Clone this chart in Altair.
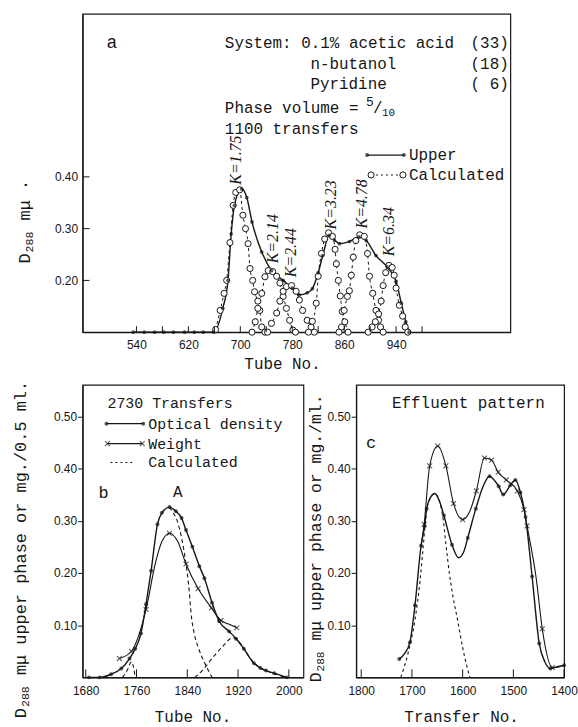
import altair as alt
import pandas as pd

INK = "#161616"
LETTER = "Liberation Mono"
NUM = "Liberation Sans"
KFONT = "Liberation Serif"
XMARK = "M-1,-1L1,1M-1,1L1,-1"

# ---------------- panel a : 1100 transfers ----------------
a_upper_tube = [535, 552, 568, 582, 597, 614, 629, 643, 659, 673, 681, 686, 691, 702,
                710, 718, 733, 748, 766, 780, 791, 803, 811, 820, 827, 837, 845, 853,
                868, 883, 894, 909, 926, 940, 948, 955, 960]
a_upper_d = [0.100, 0.100, 0.100, 0.100, 0.100, 0.100, 0.100, 0.100, 0.100, 0.146, 0.200,
             0.290, 0.345, 0.377, 0.360, 0.313, 0.255, 0.219, 0.200, 0.185, 0.172, 0.176,
             0.184, 0.215, 0.248, 0.287, 0.278, 0.271, 0.275, 0.284, 0.277, 0.248, 0.226,
             0.198, 0.156, 0.120, 0.100]

k175_tube = [662, 669, 675, 679, 684, 689, 693, 699, 704, 708, 712, 715, 719, 722, 727, 730, 733, 738]
k175_d = [0.105, 0.142, 0.175, 0.200, 0.273, 0.345, 0.370, 0.375, 0.326, 0.300, 0.271, 0.223,
          0.200, 0.178, 0.160, 0.142, 0.110, 0.100]
k214_tube = [718, 723, 727, 733, 738, 743, 750, 756, 761, 766, 771, 776, 781, 785]
k214_d = [0.100, 0.120, 0.146, 0.175, 0.207, 0.219, 0.217, 0.208, 0.195, 0.169, 0.146, 0.123, 0.104, 0.100]
k244_tube = [742, 748, 756, 761, 766, 771, 779, 786, 791, 796, 803, 809, 814]
k244_d = [0.100, 0.117, 0.137, 0.160, 0.179, 0.188, 0.190, 0.179, 0.162, 0.142, 0.123, 0.110, 0.100]
k323_tube = [805, 811, 817, 820, 825, 830, 836, 842, 846, 848, 851, 854, 857, 861, 866]
k323_d = [0.100, 0.121, 0.156, 0.208, 0.252, 0.280, 0.292, 0.285, 0.260, 0.232, 0.200, 0.170,
          0.140, 0.120, 0.100]
k478_tube = [852, 856, 860, 865, 868, 871, 874, 878, 884, 891, 896, 899, 904, 909, 913, 916, 920]
k478_d = [0.100, 0.110, 0.142, 0.169, 0.180, 0.210, 0.245, 0.277, 0.288, 0.285, 0.252, 0.208,
          0.175, 0.142, 0.123, 0.110, 0.100]
k634_tube = [897, 903, 908, 913, 917, 920, 924, 929, 934, 937, 940, 945, 950, 954, 958]
k634_d = [0.100, 0.110, 0.120, 0.135, 0.160, 0.190, 0.215, 0.229, 0.225, 0.210, 0.185, 0.152,
          0.131, 0.110, 0.100]

a_x_labels = [540, 620, 700, 780, 860, 940]
a_x_ticks = [540, 580, 620, 660, 700, 740, 780, 820, 860, 900, 940, 980]
a_y_labels = [0.2, 0.3, 0.4]

# ---------------- panel b : 2730 transfers ----------------
b_od_tube = [1685, 1702, 1720, 1736, 1749, 1758, 1767, 1775, 1783, 1793, 1800, 1812, 1822, 1831,
             1838, 1848, 1859, 1867, 1879, 1890, 1906, 1917, 1929, 1945, 1955, 1964, 1977, 1997]
b_od_val = [0.000, 0.000, 0.006, 0.017, 0.036, 0.055, 0.084, 0.140, 0.204, 0.293, 0.315, 0.326,
            0.318, 0.305, 0.282, 0.250, 0.213, 0.190, 0.143, 0.108, 0.088, 0.074, 0.055, 0.027,
            0.018, 0.013, 0.008, 0.000]
b_wt_tube = [1733, 1752, 1775, 1790, 1800, 1812, 1825, 1838, 1857, 1878, 1893, 1905, 1918]
b_wt_val = [0.036, 0.050, 0.130, 0.220, 0.260, 0.276, 0.260, 0.217, 0.170, 0.133, 0.109, 0.102, 0.095]
b_wt_marked = [1733, 1752, 1775, 1812, 1838, 1857, 1878, 1893, 1918]
b_c1_tube = [1738, 1746, 1752, 1756, 1758]
b_c1_val = [0.000, 0.015, 0.030, 0.015, 0.000]
b_c2_tube = [1812, 1815, 1824, 1831, 1838, 1843, 1846, 1851, 1858, 1868, 1879]
b_c2_val = [0.326, 0.320, 0.300, 0.267, 0.217, 0.166, 0.122, 0.084, 0.055, 0.026, 0.000]
b_c3_tube = [1852, 1865, 1880, 1895, 1912, 1925, 1940, 1955, 1975, 1995]
b_c3_val = [0.000, 0.015, 0.038, 0.058, 0.076, 0.063, 0.035, 0.018, 0.008, 0.000]
b_x_labels = [1680, 1760, 1840, 1920, 2000]
bc_y_labels = [0.1, 0.2, 0.3, 0.4, 0.5]

# ---------------- panel c : effluent pattern ----------------
c_od_tr = [1725, 1715, 1704, 1694, 1682, 1675, 1671, 1663, 1655, 1646, 1637, 1621, 1608, 1598,
           1590, 1574, 1560, 1547, 1538, 1529, 1520, 1506, 1496, 1486, 1476, 1463, 1449, 1438,
           1427, 1415, 1400]
c_od_val = [0.035, 0.045, 0.067, 0.138, 0.252, 0.290, 0.323, 0.345, 0.352, 0.338, 0.310, 0.254,
            0.229, 0.240, 0.267, 0.323, 0.365, 0.385, 0.378, 0.366, 0.350, 0.368, 0.378, 0.354,
            0.307, 0.193, 0.065, 0.030, 0.017, 0.020, 0.023]
c_od_marked = [1725, 1704, 1694, 1682, 1675, 1671, 1637, 1621, 1590, 1574, 1547, 1529, 1520,
               1506, 1496, 1486, 1476, 1463, 1449, 1427, 1400]
c_wt_tr = [1682, 1676, 1665, 1649, 1633, 1618, 1600, 1585, 1573, 1557, 1543, 1530, 1514, 1492,
           1479, 1473, 1455, 1443, 1423, 1410, 1400]
c_wt_val = [0.252, 0.293, 0.405, 0.443, 0.405, 0.333, 0.302, 0.320, 0.357, 0.420, 0.416, 0.393,
            0.378, 0.357, 0.321, 0.290, 0.190, 0.093, 0.019, 0.020, 0.023]
c_wt_marked = [1676, 1665, 1649, 1633, 1618, 1600, 1573, 1557, 1543, 1530, 1514, 1492, 1479,
               1473, 1443, 1423]
c_calc_tr = [1722, 1708, 1694, 1684, 1678, 1671, 1663, 1655, 1645, 1638, 1633, 1626, 1620, 1610,
             1600, 1586]
c_calc_val = [0.000, 0.045, 0.110, 0.185, 0.248, 0.318, 0.345, 0.352, 0.335, 0.300, 0.255, 0.198,
              0.160, 0.110, 0.057, 0.000]
c_x_labels = [1800, 1700, 1600, 1500, 1400]

one = pd.DataFrame({"k": [0]})


def frame(xs, ys, comp="s"):
    return pd.DataFrame({"x": xs, "y": ys, "comp": comp})


def txt(s, x, y, size=16, align="left", angle=0, font=LETTER, style="normal"):
    return alt.Chart(one).mark_text(
        text=s, align=align, baseline="middle", fontSize=size, font=font,
        fontStyle=style, angle=angle, color=INK
    ).encode(x=alt.value(x), y=alt.value(y))


def vtitle(x, y_bottom, rest, size):
    """Rotated 'D288 ...' title read bottom-to-top, with a real subscript."""
    adv = 0.6 * size
    sub = round(size * 0.68, 1)
    y_sub = y_bottom - adv - 1
    y_rest = y_sub - 3 * 0.6 * sub - 1 - adv
    return [
        txt("D", x, y_bottom, size=size, angle=270),
        txt("288", x + 5, y_sub, size=sub, angle=270),
        txt(rest, x, y_rest, size=size, angle=270),
    ]


def seg(x1, x2, y, dash=None, width=1.3):
    kw = dict(color=INK, strokeWidth=width)
    if dash:
        kw["strokeDash"] = dash
    return alt.Chart(one).mark_rule(**kw).encode(x=alt.value(x1), x2=alt.value(x2), y=alt.value(y))


def glyph(x, y, kind):
    if kind == "dot":
        m = alt.Chart(one).mark_point(shape="circle", filled=True, color=INK, size=16)
    elif kind == "ring":
        m = alt.Chart(one).mark_point(shape="circle", filled=True, fill="white", stroke=INK,
                                      strokeWidth=1, size=38, opacity=1)
    else:
        m = alt.Chart(one).mark_point(shape=XMARK, filled=False, color=INK, size=24, strokeWidth=1.1)
    return m.encode(x=alt.value(x), y=alt.value(y))


def enc(xs, ys, xa, ya):
    return dict(x=alt.X("x:Q", scale=xs, axis=xa), y=alt.Y("y:Q", scale=ys, axis=ya))


def ktxt(s, x, y):
    return txt(s, x, y, size=16, angle=270, align="center", font=KFONT, style="italic")


# ======================= panel a =======================
AW, AH = 430, 320
xs_a = alt.Scale(domain=[457, 1116], nice=False, zero=False)
ys_a = alt.Scale(domain=[0.10, 0.715], nice=False, zero=False)
xa_a = alt.Axis(values=a_x_labels, format="d", ticks=False, labelPadding=7, title=None,
                labelFlush=False, labelOverlap=False)
ya_a = alt.Axis(values=a_y_labels, format=".2f", ticks=False, labelPadding=5, title=None,
                labelOverlap=False)
ea = enc(xs_a, ys_a, xa_a, ya_a)

upper = frame(a_upper_tube, a_upper_d)
calc_a = pd.concat([
    frame(k175_tube, k175_d, "k175"), frame(k214_tube, k214_d, "k214"),
    frame(k244_tube, k244_d, "k244"), frame(k323_tube, k323_d, "k323"),
    frame(k478_tube, k478_d, "k478"), frame(k634_tube, k634_d, "k634")])

a_layers = [
    alt.Chart(one).mark_rule(color="white", strokeWidth=0.5).encode(
        x=alt.value(-82), x2=alt.value(-81), y=alt.value(-11)),
    alt.Chart(calc_a).mark_line(color=INK, strokeWidth=1.0, strokeDash=[3, 3], interpolate="monotone").encode(
        detail="comp:N", **ea),
    alt.Chart(upper).mark_line(color=INK, strokeWidth=1.4, interpolate="monotone").encode(**ea),
    alt.Chart(calc_a).mark_point(shape="circle", filled=True, fill="white", stroke=INK, strokeWidth=1,
                                 size=38, opacity=1).encode(**ea),
    alt.Chart(upper).mark_point(shape="circle", filled=True, color=INK, size=14).encode(**ea),
    alt.Chart(pd.DataFrame({"x": a_x_ticks})).mark_rule(color=INK, strokeWidth=1).encode(
        x=alt.X("x:Q", scale=xs_a, axis=xa_a), y=alt.value(AH), y2=alt.value(AH - 6)),
    alt.Chart(pd.DataFrame({"y": a_y_labels})).mark_rule(color=INK, strokeWidth=1).encode(
        y=alt.Y("y:Q", scale=ys_a, axis=ya_a), x=alt.value(0), x2=alt.value(7)),
    txt("a", 24, 29, size=18),
    txt("System: 0.1% acetic acid", 143, 29),
    txt("(33)", 390, 29),
    txt("n-butanol", 229, 50),
    txt("(18)", 390, 50),
    txt("Pyridine", 229, 71),
    txt("( 6)", 390, 71),
    txt("Phase volume =", 143, 95),
    txt("5", 285, 89, size=13),
    txt("/", 292, 95, size=16),
    txt("10", 301, 100, size=11),
    txt("1100 transfers", 143, 116),
    seg(286, 323, 142),
    glyph(286, 142, "dot"), glyph(323, 142, "dot"),
    txt("Upper", 328, 142),
    seg(290, 322, 162, dash=[2, 3], width=1.1),
    glyph(290, 162, "ring"), glyph(322, 162, "ring"),
    txt("Calculated", 328, 162),
    ktxt("K=1.75", 154, 147),
    ktxt("K=2.14", 191, 226),
    ktxt("K=2.44", 210, 240),
    ktxt("K=3.23", 250, 192),
    ktxt("K=4.78", 281, 191),
    ktxt("K=6.34", 308, 219),
    txt("Tube No.", 201, 352, align="center"),
] + vtitle(-58, 251, "mμ ·", 17)
panel_a = alt.layer(*a_layers).properties(width=AW, height=AH)

# ======================= panel b =======================
BW, BH = 222, 294
xs_b = alt.Scale(domain=[1675, 2023], nice=False, zero=False)
ys_b = alt.Scale(domain=[0, 0.56], nice=False, zero=False)
xa_b = alt.Axis(values=b_x_labels, format="d", ticks=False, labelPadding=8, title=None,
                labelFlush=False, labelOverlap=False)
ya_b = alt.Axis(values=bc_y_labels, format=".2f", tickSize=5, labelPadding=1, title=None,
                labelOverlap=False)
eb = enc(xs_b, ys_b, xa_b, ya_b)

b_od = frame(b_od_tube, b_od_val)
b_wt = frame(b_wt_tube, b_wt_val)
b_wt_pts = b_wt[b_wt["x"].isin(b_wt_marked)]
b_calc = pd.concat([frame(b_c1_tube, b_c1_val, "c1"), frame(b_c2_tube, b_c2_val, "c2"),
                    frame(b_c3_tube, b_c3_val, "c3")])

b_layers = [
    alt.Chart(one).mark_rule(color="white", strokeWidth=0.5).encode(
        x=alt.value(-82), x2=alt.value(-81), y=alt.value(40)),
    alt.Chart(b_calc).mark_line(color=INK, strokeWidth=1.1, strokeDash=[4, 3], interpolate="monotone").encode(
        detail="comp:N", **eb),
    alt.Chart(b_wt).mark_line(color=INK, strokeWidth=1.1, interpolate="monotone").encode(**eb),
    alt.Chart(b_od).mark_line(color=INK, strokeWidth=1.4, interpolate="monotone").encode(**eb),
    alt.Chart(b_od).mark_point(shape="circle", filled=True, color=INK, size=16).encode(**eb),
    alt.Chart(b_wt_pts).mark_point(shape=XMARK, filled=False, color=INK, size=24, strokeWidth=1.1).encode(**eb),
    alt.Chart(pd.DataFrame({"x": b_x_labels})).mark_rule(color=INK, strokeWidth=1).encode(
        x=alt.X("x:Q", scale=xs_b, axis=xa_b), y=alt.value(BH), y2=alt.value(BH - 8)),
    txt("2730 Transfers", 25, 18, size=15),
    seg(24, 61, 39), glyph(24, 39, "dot"), glyph(61, 39, "dot"),
    txt("Optical density", 66, 39, size=15),
    seg(25, 60, 59, width=1.1), glyph(25, 59, "x"), glyph(60, 59, "x"),
    txt("Weight", 66, 59, size=15),
    seg(28, 50, 78, dash=[2, 3], width=1.1),
    txt("Calculated", 66, 78, size=15),
    txt("b", 16, 109, size=17),
    txt("A", 91, 108, size=16),
    txt("Tube No.", 111, 334, align="center"),
] + vtitle(-62, 335, "mμ upper phase or mg./0.5 ml.", 17)
panel_b = alt.layer(*b_layers).properties(width=BW, height=BH)

# ======================= panel c =======================
CW, CH = 209, 294
xs_c = alt.Scale(domain=[1400, 1810], reverse=True, nice=False, zero=False)
ys_c = alt.Scale(domain=[0, 0.56], nice=False, zero=False)
xa_c = alt.Axis(values=c_x_labels, format="d", ticks=False, labelPadding=8, title=None,
                labelFlush=False, labelOverlap=False)
ya_c = alt.Axis(values=bc_y_labels, format=".2f", tickSize=5, labelPadding=1, title=None,
                labelOverlap=False)
ec = enc(xs_c, ys_c, xa_c, ya_c)

c_od = frame(c_od_tr, c_od_val)
c_od_pts = c_od[c_od["x"].isin(c_od_marked)]
c_wt = frame(c_wt_tr, c_wt_val)
c_wt_pts = c_wt[c_wt["x"].isin(c_wt_marked)]
c_calc = frame(c_calc_tr, c_calc_val)

c_layers = [
    alt.Chart(c_calc).mark_line(color=INK, strokeWidth=1.1, strokeDash=[3, 3], interpolate="monotone").encode(**ec),
    alt.Chart(c_wt).mark_line(color=INK, strokeWidth=1.1, interpolate="monotone").encode(**ec),
    alt.Chart(c_od).mark_line(color=INK, strokeWidth=1.4, interpolate="monotone").encode(**ec),
    alt.Chart(c_od_pts).mark_point(shape="circle", filled=True, color=INK, size=16).encode(**ec),
    alt.Chart(c_wt_pts).mark_point(shape=XMARK, filled=False, color=INK, size=24, strokeWidth=1.1).encode(**ec),
    alt.Chart(pd.DataFrame({"x": c_x_labels})).mark_rule(color=INK, strokeWidth=1).encode(
        x=alt.X("x:Q", scale=xs_c, axis=xa_c), y=alt.value(CH), y2=alt.value(CH - 8)),
    txt("Effluent pattern", 36, 18),
    txt("c", 10, 58, size=17),
    txt("Transfer No.", 106, 334, align="center"),
] + vtitle(-40, 299, "mμ upper phase or mg./ml.", 16.5)
panel_c = alt.layer(*c_layers).properties(width=CW, height=CH)

bottom = alt.hconcat(panel_b, panel_c, spacing=53, bounds="flush")
chart = alt.vconcat(panel_a, bottom, spacing=53, bounds="flush").properties(
    padding=0, autosize=alt.AutoSizeParams(type="pad"), background="white"
).configure_view(
    stroke=INK, strokeWidth=1.2
).configure_axis(
    grid=False, domainColor=INK, domainWidth=1.2, tickColor=INK, labelColor=INK,
    labelFont=NUM, labelFontSize=12
)

chart.save("out.html", embed_options={"renderer": "svg", "actions": False})
